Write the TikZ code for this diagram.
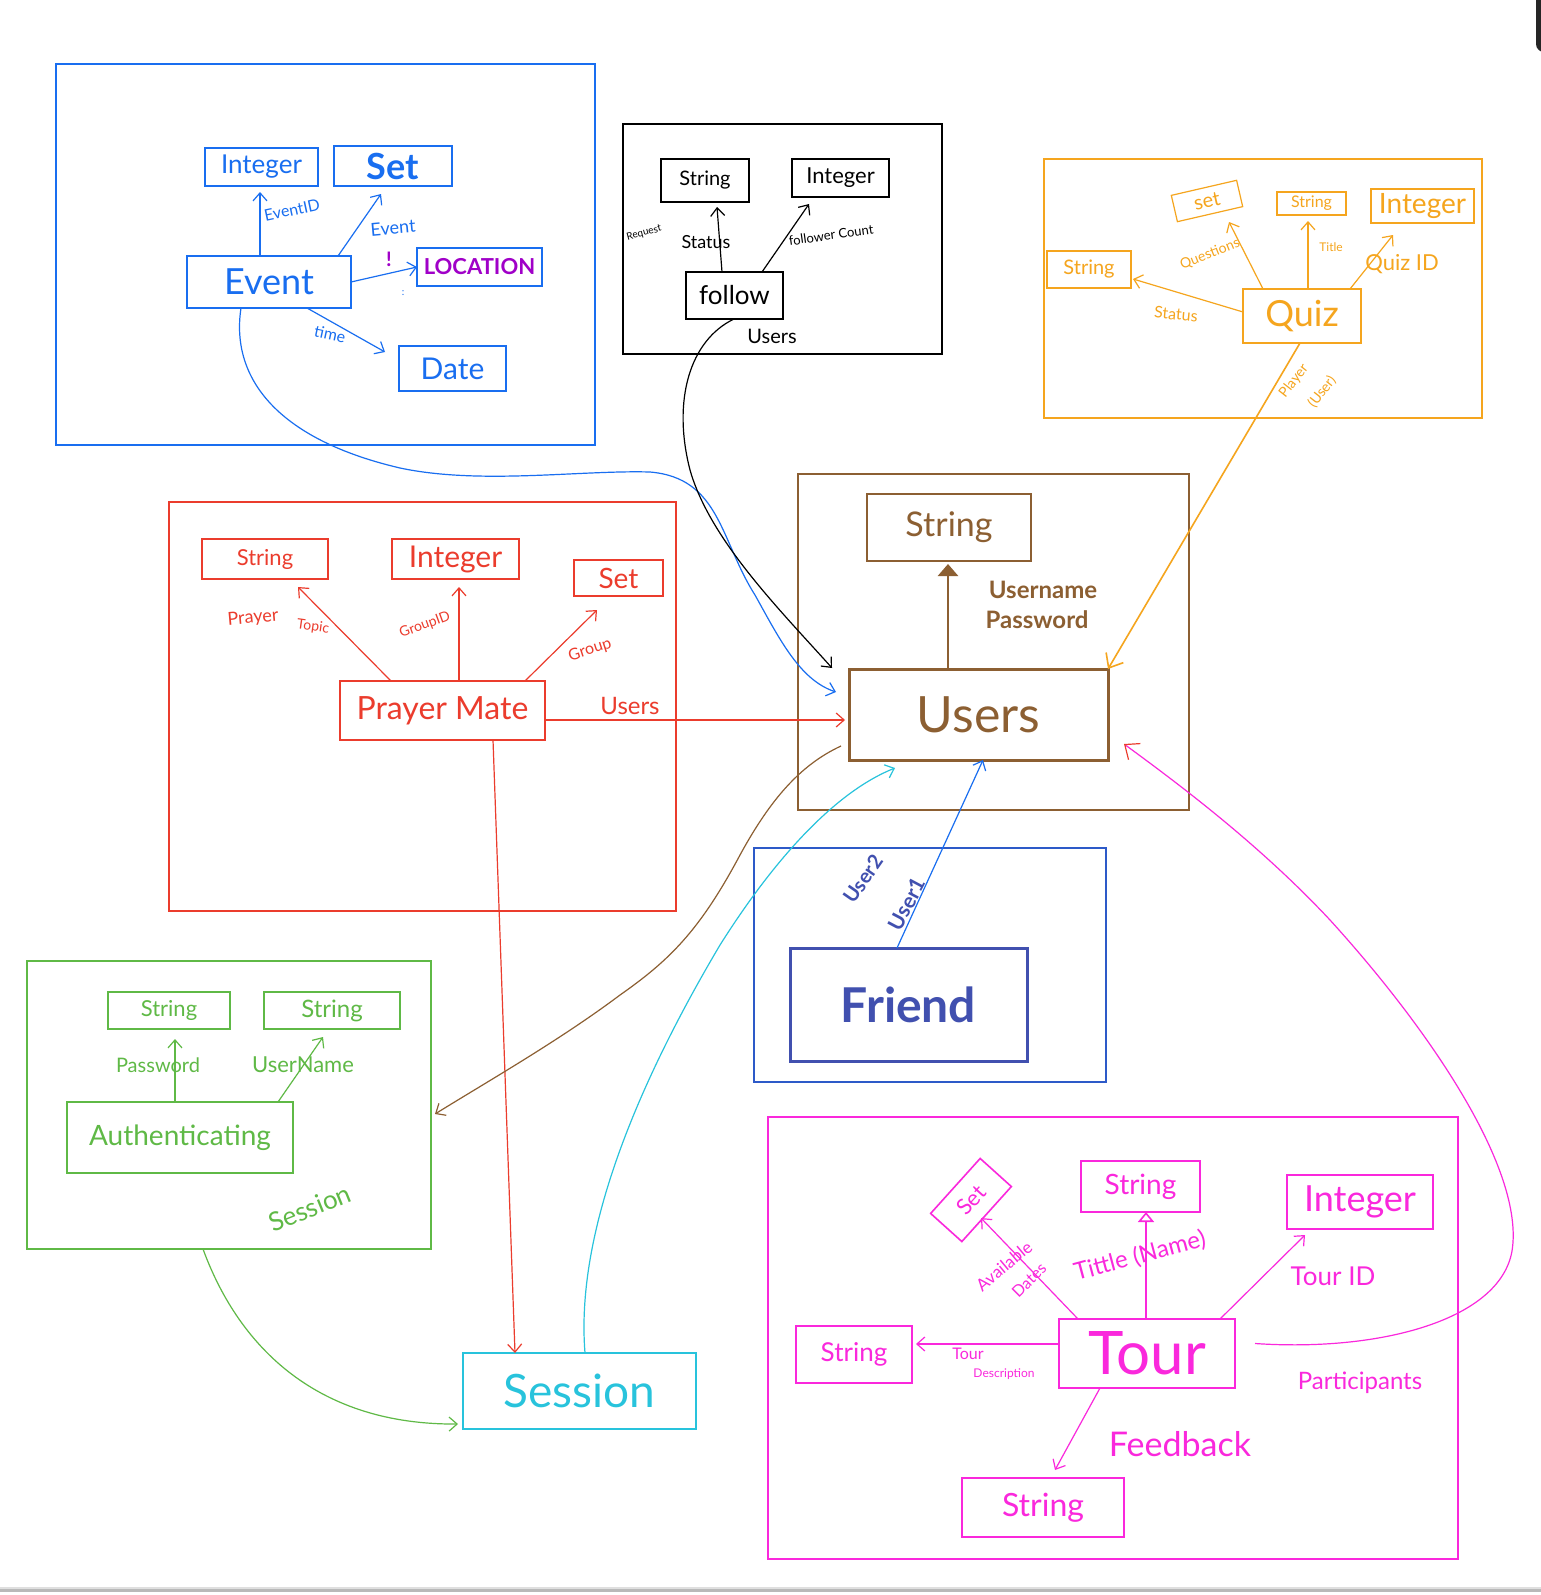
\documentclass[tikz,border=0pt]{standalone}
\usepackage{fontspec}
\setmainfont{Lato}
\usetikzlibrary{arrows.meta}
\definecolor{evb}{RGB}{25,110,240}
\definecolor{locp}{RGB}{160,0,200}
\definecolor{qzor}{RGB}{245,165,30}
\definecolor{pmr}{RGB}{235,60,45}
\definecolor{usb}{RGB}{140,95,50}
\definecolor{frind}{RGB}{65,80,175}
\definecolor{frb}{RGB}{45,90,200}
\definecolor{aug}{RGB}{95,185,70}
\definecolor{scy}{RGB}{40,195,220}
\definecolor{tmg}{RGB}{250,40,220}
\newcommand\hsz[1]{\fontsize{#1}{#1}\selectfont}
\newcommand\bx[7]{\node[#6, minimum width={(#4-#2)*0.5pt}, minimum height={(#5-#3)*0.5pt}] (#1) at ({(#2+#4)/2},{(#3+#5)/2}) {#7};}
\tikzset{
  every node/.style={inner sep=0pt, outer sep=0pt},
  frame/.style={draw, line width=0.7pt},
  bxs/.style={draw, line width=0.8pt},
  arr/.style={-{Straight Barb[length=4pt,width=7pt]}, line width=0.6pt},
  tri/.style={-{Triangle[open,length=5pt,width=8pt]}},
}
\begin{document}
\begin{tikzpicture}[x=0.5pt,y=-0.5pt]
\useasboundingbox (0,0) rectangle (1541,1595);
\fill[white] (0,0) rectangle (1541,1595);
\fill[gray!25] (0,1587) rectangle (1541,1589);
\fill[gray!55] (0,1589) rectangle (1541,1592);
\fill[black!85, rounded corners=4pt] (1536,-10) rectangle (1560,52);

% ---------- Event ----------
\begin{scope}[evb]
\bx{evframe}{56}{64}{595}{445}{frame}{}
\bx{evint}{205}{148}{318}{186}{bxs,font=\hsz{13}}{Integer}
\bx{evset}{334}{146}{452}{186}{bxs,font=\hsz{18}\bfseries}{Set}
\bx{event}{187}{256}{351}{308}{bxs,font=\hsz{18}}{Event}
\bx{evloc}{417}{248}{542}{286}{bxs,text=locp,font=\hsz{11}\bfseries}{LOCATION}
\bx{evdate}{399}{346}{506}{391}{bxs,font=\hsz{15}}{Date}
\coordinate (e2) at (381,194);
\coordinate (e4) at (385,352);
\draw[arr] (260,0 |- event.north) -- (260,0 |- evint.south) [shorten >=3pt];
\draw[arr] (338,0 |- event.north) -- (e2);
\draw[arr] (event.east) -- (evloc.west);
\draw[arr] (307,0 |- event.south) -- (e4);
\node[rotate=12, font=\hsz{8}] (lev1) at (292,210) {EventID};
\node[rotate=5, font=\hsz{9}] (lev2) at (393,228) {Event};
\node[rotate=-12, font=\hsz{8}] (lev3) at (330,334) {time};
\node[text=locp, font=\hsz{10}\bfseries] (lev4) at (389,259) {!};
\node[font=\hsz{5}] (lev5) at (403,293) {:};
\end{scope}

% ---------- follow ----------
\bx{flframe}{623}{124}{942}{354}{frame}{}
\bx{flstr}{661}{159}{749}{202}{bxs,font=\hsz{10}}{String}
\bx{flint}{792}{159}{889}{197}{bxs,font=\hsz{11}}{Integer}
\bx{follow}{686}{272}{783}{319}{bxs,font=\hsz{13}}{follow}
\coordinate (f1) at (717,207);
\coordinate (f2) at (809,204);
\draw[arr] (722,0 |- follow.north) -- (f1);
\draw[arr] (762,0 |- follow.north) -- (f2);
\node[rotate=15, font=\hsz{5}] (lf1) at (644,233) {Request};
\node[font=\hsz{9}] (lf2) at (706,242) {Status};
\node[rotate=8, font=\hsz{6.5}] (lf3) at (831,235) {follower Count};
\node[font=\hsz{10}] (lf4) at (772,336) {Users};

% ---------- Users ----------
\begin{scope}[usb]
\bx{usframe}{798}{474}{1189}{810}{frame}{}
\bx{usstr}{867}{494}{1031}{561}{bxs,font=\hsz{17}}{String}
\bx{users}{849}{669}{1108}{760}{draw, line width=1.5pt,font=\hsz{25}}{Users}
\draw[-{Triangle[length=6pt,width=10pt]}, line width=1.3pt, shorten >=1.5pt] (948,0 |- users.north) -- (948,0 |- usstr.south);
\node[font=\hsz{12}\bfseries] (lu1) at (1043,590) {Username};
\node[font=\hsz{12}\bfseries] (lu2) at (1037,620) {Password};
\end{scope}

% ---------- Quiz ----------
\begin{scope}[qzor]
\bx{qzframe}{1044}{159}{1482}{418}{frame}{}
\node[draw, line width=0.6pt, rotate=13, minimum width=33.5pt, minimum height=13.5pt, font=\hsz{10}] (qzset) at (1207,201) {set};
\bx{qzstr}{1277}{192}{1346}{215}{bxs,font=\hsz{8}}{String}
\bx{qzint}{1371}{189}{1474}{223}{bxs,font=\hsz{14}}{Integer}
\bx{qzstat}{1047}{251}{1131}{288}{bxs,font=\hsz{10}}{String}
\bx{quiz}{1243}{289}{1361}{343}{bxs,font=\hsz{18}}{Quiz}
\coordinate (q1) at (1229,222);
\coordinate (q3) at (1393,235);
\coordinate (q4) at (1133,279);
\draw[arr] (1263,0 |- quiz.north) -- (q1);
\draw[arr] (1308,0 |- quiz.north) -- (1308,0 |- qzstr.south) [shorten >=3pt];
\draw[arr] (1350,0 |- quiz.north) -- (q3);
\draw[arr] (1243,0 |- 0,312) -- (q4);
\draw[-{Straight Barb[length=6pt,width=10pt]}, line width=0.8pt] (1300,0 |- quiz.south) -- (users.north east);
\node[rotate=22, font=\hsz{7}] (lq1) at (1210,254) {Questions};
\node[font=\hsz{6}] (lq2) at (1331,247) {Title};
\node[font=\hsz{11}] (lq3) at (1402,264) {Quiz ID};
\node[rotate=-5, font=\hsz{8}] (lq4) at (1176,314) {Status};
\node[rotate=52, font=\hsz{7}] (lq5) at (1294,381) {Player};
\node[rotate=52, font=\hsz{7}] (lq6) at (1322,392) {(User)};
\end{scope}

% ---------- Prayer Mate ----------
\begin{scope}[pmr]
\bx{pmframe}{169}{502}{676}{911}{frame}{}
\bx{pmstr}{202}{539}{328}{579}{bxs,font=\hsz{11}}{String}
\bx{pmint}{392}{539}{519}{579}{bxs,font=\hsz{15}}{Integer}
\bx{pmset}{574}{560}{663}{596}{bxs,font=\hsz{14}}{Set}
\bx{pm}{340}{681}{545}{740}{bxs,font=\hsz{16}}{Prayer Mate}
\coordinate (p1) at (298,587);
\coordinate (p3) at (597,610);
\draw[arr] (391,0 |- pm.north) -- (p1);
\draw[arr] (459,0 |- pm.north) -- (459,0 |- pmint.south) [shorten >=4pt];
\draw[arr] (525,0 |- pm.north) -- (p3);
\node[rotate=5, font=\hsz{9}] (lp1) at (253,618) {Prayer};
\node[rotate=-8, font=\hsz{7}] (lp2) at (313,627) {Topic};
\node[rotate=20, font=\hsz{7}] (lp3) at (425,625) {GroupID};
\node[rotate=18, font=\hsz{8}] (lp4) at (590,650) {Group};
\node[font=\hsz{12}] (lp5) at (630,706) {Users};
\draw[arr] (545,0 |- 0,720) -- (849,0 |- 0,720) [shorten >=2pt];
\end{scope}

% ---------- Friend ----------
\bx{frframe}{754}{848}{1106}{1082}{frame, draw=frb}{}
\bx{friend}{790}{948}{1027}{1061}{draw=frind, line width=1.5pt, text=frind, font=\hsz{24}\bfseries}{Friend}
\draw[arr, evb] (897,0 |- friend.north) -- (983,0 |- users.south);
\node[rotate=55, text=frind, font=\hsz{10}\bfseries] (lfr1) at (863,879) {User2};
\node[rotate=62, text=frind, font=\hsz{10.5}\bfseries] (lfr2) at (907,904) {User1};

% ---------- Authentication ----------
\begin{scope}[aug]
\bx{auframe}{27}{961}{431}{1249}{frame}{}
\bx{aus1}{108}{992}{230}{1029}{bxs,font=\hsz{11}}{String}
\bx{aus2}{264}{992}{400}{1029}{bxs,font=\hsz{12}}{String}
\bx{auth}{67}{1102}{293}{1173}{bxs,font=\hsz{14}}{Authenticating}
\coordinate (a2) at (323,1037);
\draw[arr] (175,0 |- auth.north) -- (175,0 |- aus1.south) [shorten >=5pt];
\draw[arr] (278,0 |- auth.north) -- (a2);
\node[font=\hsz{10}] (la1) at (158,1065) {Password};
\node[font=\hsz{11}] (la2) at (303,1065) {UserName};
\node[rotate=22, font=\hsz{13}] (la3) at (310,1208) {Session};
\end{scope}

% ---------- Session ----------
\bx{session}{463}{1353}{696}{1429}{bxs, draw=scy, text=scy, font=\hsz{23}}{Session}
\draw[arr, pmr] (493,0 |- pm.south) -- (515,0 |- session.north);

% ---------- Tour ----------
\begin{scope}[tmg]
\bx{tfframe}{768}{1117}{1458}{1559}{frame}{}
\node[draw, line width=0.8pt, rotate=48, minimum width=37pt, minimum height=21pt, font=\hsz{11}] (tset) at (971,1200) {Set};
\bx{tstr1}{1081}{1161}{1200}{1212}{bxs,font=\hsz{14}}{String}
\bx{tint}{1287}{1175}{1433}{1229}{bxs,font=\hsz{18}}{Integer}
\bx{tstr2}{796}{1326}{912}{1383}{bxs,font=\hsz{13}}{String}
\bx{tour}{1059}{1319}{1235}{1388}{bxs,font=\hsz{30}}{Tour}
\bx{tstr3}{962}{1478}{1124}{1537}{bxs,font=\hsz{16}}{String}
\coordinate (t1) at (981,1218);
\coordinate (t3) at (1305,1235);
\coordinate (t5) at (1055,1470);
\draw[arr] (1078,0 |- tour.north) -- (t1);
\draw[tri, line width=0.8pt] (1146,0 |- tour.north) -- (1146,0 |- tstr1.south);
\draw[arr] (1220,0 |- tour.north) -- (t3);
\draw[arr] (1059,0 |- 0,1344) -- (912,0 |- 0,1344) [shorten >=2pt];
\draw[arr] (1100,0 |- tour.south) -- (t5);
\node[rotate=40, font=\hsz{8.5}] (lt1) at (1004,1266) {Available};
\node[rotate=45, font=\hsz{8}] (lt1b) at (1029,1280) {Dates};
\node[rotate=15, font=\hsz{12}] (lt2) at (1140,1256) {Tittle (Name)};
\node[font=\hsz{13}] (lt3) at (1333,1276) {Tour ID};
\node[font=\hsz{8}] (lt4) at (968,1354) {Tour};
\node[font=\hsz{6}] (lt5) at (1004,1374) {Description};
\node[font=\hsz{17}] (lt6) at (1180,1444) {Feedback};
\node[font=\hsz{12}] (lt7) at (1360,1383) {Participants};
\end{scope}

% ---------- long connectors ----------
\coordinate (ue1) at (836,692);
\draw[arr, evb] (241,0 |- event.south) .. controls (230,380) and (280,440) .. (400,468)
  .. controls (480,485) and (580,470) .. (650,472)
  .. controls (720,478) and (720,540) .. (755,595)
  .. controls (780,640) and (800,680) .. (ue1);

\coordinate (ue2) at (832,668);
\draw[arr] (734,0 |- follow.south) .. controls (690,340) and (672,400) .. (690,470)
  .. controls (710,540) and (780,610) .. (ue2);

\coordinate (ab1) at (435,1114);
\draw[arr, usb] ([xshift=-4pt,yshift=7pt]users.south west) .. controls (800,765) and (770,800) .. (740,855)
  .. controls (700,930) and (670,960) .. (620,995)
  .. controls (560,1040) and (490,1080) .. (ab1);

\coordinate (se1) at (458,1424);
\draw[arr, aug] (203,0 |- auframe.south) .. controls (240,1350) and (320,1425) .. (se1);

\coordinate (su1) at (895,768);
\draw[arr, scy] (585,0 |- session.north) .. controls (575,1230) and (640,1080) .. (720,945)
  .. controls (780,850) and (840,790) .. (su1);

\coordinate (pu1) at (1124,744);
\draw[tmg, line width=0.6pt, -{Straight Barb[length=6pt,width=10pt,color=pmr]}] ([xshift=10pt,yshift=5pt]tour.east)
  .. controls (1380,1352) and (1500,1320) .. (1512,1251)
  .. controls (1525,1170) and (1430,1030) .. (1330,920)
  .. controls (1260,845) and (1180,785) .. (pu1);
\end{tikzpicture}
\end{document}
